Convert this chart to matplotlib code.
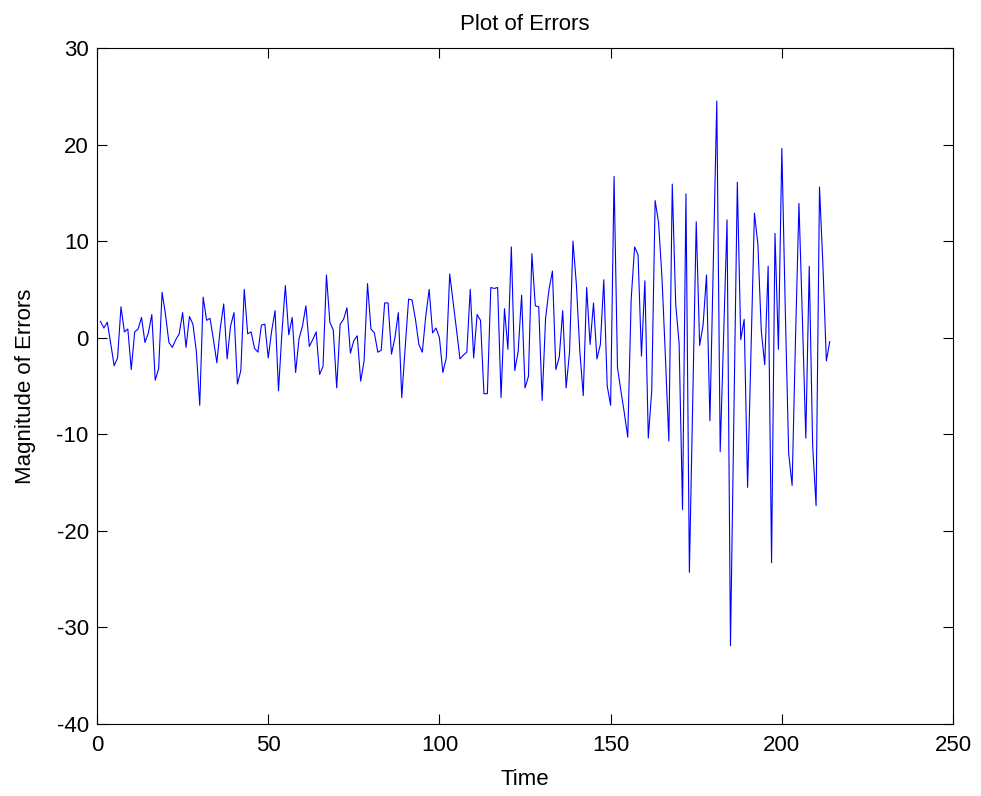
import numpy as np
import matplotlib
matplotlib.use('Agg')
import matplotlib.pyplot as plt

plt.rcParams['font.family'] = ['Liberation Sans', 'DejaVu Sans']
plt.rcParams['axes.unicode_minus'] = False

# Error values, one per time step (t = 1..214)
errors = [
    1.7, 1.0, 1.6, -0.6, -2.9, -2.1, 3.2, 0.6, 0.9, -3.3,
    0.6, 0.9, 2.1, -0.5, 0.5, 2.4, -4.4, -3.2, 4.7, 2.4,
    -0.5, -1.0, -0.2, 0.4, 2.6, -1.0, 2.2, 1.4, -1.4, -7.0,
    4.2, 1.8, 2.0, -0.2, -2.6, 1.0, 3.5, -2.2, 1.2, 2.6,
    -4.8, -3.4, 5.0, 0.4, 0.6, -1.1, -1.5, 1.3, 1.4, -2.1,
    0.7, 2.8, -5.5, 0.5, 5.4, 0.3, 2.1, -3.6, -0.1, 1.2,
    3.3, -0.9, -0.2, 0.6, -3.8, -3.0, 6.5, 1.6, 0.8, -5.2,
    1.4, 1.9, 3.1, -1.6, -0.3, 0.2, -4.5, -2.4, 5.6, 0.9,
    0.5, -1.5, -1.3, 3.6, 3.6, -1.7, 0.0, 2.6, -6.2, -1.0,
    4.0, 3.9, 1.9, -0.7, -1.5, 2.2, 5.0, 0.5, 1.0, 0.0,
    -3.6, -2.1, 6.6, 3.7, 0.8, -2.2, -1.8, -1.5, 5.0, -2.1,
    2.4, 1.8, -5.8, -5.8, 5.2, 5.1, 5.2, -6.2, 3.0, -1.2,
    9.4, -3.4, -1.4, 4.4, -5.2, -4.0, 8.7, 3.3, 3.2, -6.5,
    2.0, 5.0, 6.9, -3.3, -2.0, 2.8, -5.2, -1.5, 10.0, 5.5,
    -1.4, -6.0, 5.2, -0.7, 3.6, -2.2, -0.7, 6.0, -5.0, -7.0,
    16.7, -3.1, -5.5, -7.8, -10.3, 4.0, 9.4, 8.6, -1.9, 5.9,
    -10.4, -5.5, 14.2, 11.9, 6.2, -2.0, -10.7, 15.9, 3.5, -0.6,
    -17.8, 14.9, -24.3, -6.0, 12.0, -0.8, 1.3, 6.5, -8.6, 8.0,
    24.5, -11.8, 0.2, 12.2, -31.9, -8.0, 16.1, -0.2, 1.9, -15.5,
    -1.5, 12.9, 9.7, 0.7, -2.8, 7.4, -23.3, 10.8, -1.2, 19.6,
    3.0, -12.0, -15.3, 0.0, 13.9, 2.0, -10.4, 7.4, -11.2, -17.4,
    15.6, 7.5, -2.4, -0.4,
]
time = np.arange(1, len(errors) + 1)

x_ticks = [0, 50, 100, 150, 200, 250]
y_ticks = [-40, -30, -20, -10, 0, 10, 20, 30]

fig = plt.figure(figsize=(9.81, 7.96), dpi=100)
ax = fig.add_axes([0.0989, 0.0905, 0.8726, 0.8492])

ax.plot(time, errors, color='#0000ff', linewidth=0.8)

ax.set_xlim(0, 250)
ax.set_ylim(-40, 30)
ax.set_xticks(x_ticks)
ax.set_yticks(y_ticks)
ax.tick_params(direction='in', length=7, width=0.8, labelsize=16,
               top=True, right=True)
ax.tick_params(axis='x', pad=8)
ax.tick_params(axis='y', pad=6)
for spine in ax.spines.values():
    spine.set_linewidth(0.8)

ax.set_title('Plot of Errors', fontsize=16, pad=13)
ax.set_xlabel('Time', fontsize=16, labelpad=9)
ax.set_ylabel('Magnitude of Errors', fontsize=16, labelpad=15)

fig.savefig('out.png', dpi=100, facecolor='white')
